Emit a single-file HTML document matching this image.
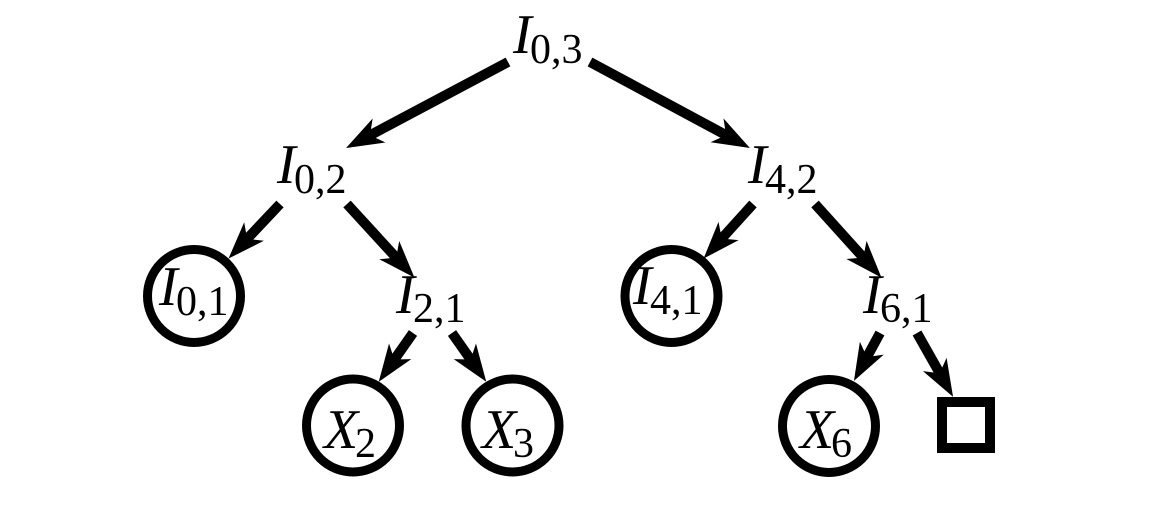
<!DOCTYPE html>
<html>
<head>
<meta charset="utf-8">
<style>
  html, body { margin: 0; padding: 0; background: #ffffff; }
  body { width: 1150px; height: 505px; overflow: hidden; }
  svg { display: block; }
  text { font-family: "Liberation Serif", "Times New Roman", "Tinos", "Nimbus Roman", "FreeSerif", "Noto Serif", "Noto Serif CJK SC", "DejaVu Serif", serif; fill: #000; }
  .m { font-style: italic; font-size: 56px; }
  .s { font-style: normal; font-size: 42px; }
</style>
</head>
<body>
<svg width="1150" height="505" viewBox="0 0 1150 505" xmlns="http://www.w3.org/2000/svg">
  <rect x="0" y="0" width="1150" height="505" fill="#ffffff"/>

  <!-- connectors -->
  <g stroke="#000" stroke-width="10" stroke-linecap="butt" fill="none">
    <line x1="508" y1="62" x2="365.7" y2="137.6"/>
    <line x1="590" y1="62" x2="730.4" y2="137.5"/>
    <line x1="280" y1="204" x2="243.7" y2="242.5"/>
    <line x1="347" y1="204" x2="399.5" y2="261.3"/>
    <line x1="753" y1="204" x2="718.4" y2="242.2"/>
    <line x1="815" y1="204" x2="866.6" y2="261.2"/>
    <line x1="413" y1="333" x2="391.5" y2="363.6"/>
    <line x1="452" y1="333" x2="473.5" y2="363.6"/>
    <line x1="880" y1="333" x2="864.6" y2="361.4"/>
    <line x1="917" y1="333" x2="942.2" y2="377.6"/>
  </g>

  <!-- arrowheads -->
  <g fill="#000" stroke="#000" stroke-width="1.5" stroke-linejoin="miter">
    <polygon points="348,147 382.8,142.1 369.2,135.7 371.5,120.9"/>
    <polygon points="748,147 724.6,120.8 726.9,135.6 713.2,141.9"/>
    <polygon points="230,257 261.3,241.2 246.5,239.6 243.9,224.8"/>
    <polygon points="413,276 399.5,243.6 396.8,258.3 381.9,259.8"/>
    <polygon points="705,257 736.05,240.6 721.1,239.2 718.25,224.5"/>
    <polygon points="880,276 866.8,243.5 863.9,258.2 849,259.5"/>
    <polygon points="380,380 408.8,359.9 393.8,360.3 389.1,346.1"/>
    <polygon points="485,380 475.9,346.1 471.2,360.3 456.2,359.9"/>
    <polygon points="855,379 881.35,355.7 866.5,357.9 860.25,344.3"/>
    <polygon points="952,395 946.25,360.4 940.2,374.1 925.35,372.2"/>
  </g>

  <!-- circles and square -->
  <g stroke="#000" stroke-width="9" fill="none">
    <circle cx="194" cy="296" r="46.5"/>
    <circle cx="671.5" cy="296" r="46.5"/>
    <circle cx="353" cy="425.5" r="46.5"/>
    <circle cx="512.5" cy="425.5" r="46.5"/>
    <circle cx="829" cy="426" r="46.5"/>
  </g>
  <rect x="942" y="402" width="48" height="46" stroke="#000" stroke-width="10" fill="none"/>

  <!-- labels -->
  <text class="m" x="513" y="53">I</text><text class="s" x="530" y="63">0,3</text>
  <text class="m" x="277" y="183">I</text><text class="s" x="294" y="193">0,2</text>
  <text class="m" x="748" y="183">I</text><text class="s" x="765" y="193">4,2</text>
  <text class="m" x="159" y="305">I</text><text class="s" x="176" y="315">0,1</text>
  <text class="m" x="396" y="313">I</text><text class="s" x="413" y="322">2,1</text>
  <text class="m" x="633" y="304">I</text><text class="s" x="650" y="314">4,1</text>
  <text class="m" x="863" y="313">I</text><text class="s" x="880" y="322">6,1</text>
  <text class="m" x="324" y="448">X</text><text class="s" x="355" y="457">2</text>
  <text class="m" x="482" y="448">X</text><text class="s" x="513" y="457">3</text>
  <text class="m" x="800" y="448">X</text><text class="s" x="831" y="457">6</text>
</svg>
</body>
</html>
